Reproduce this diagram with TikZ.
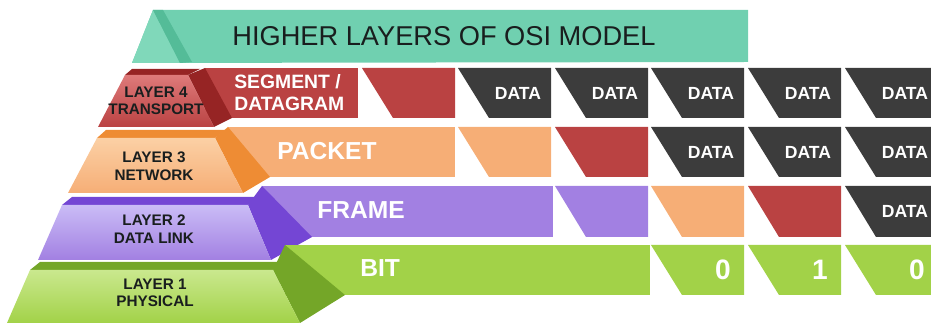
\documentclass[tikz,border=0pt]{standalone}
\usepackage{fontspec}
\setmainfont{Liberation Sans}
\usepackage{tikz}
\definecolor{OSIInk}{RGB}{25,30,30}
\definecolor{OSITeal}{RGB}{112,208,176}
\definecolor{OSITealLight}{RGB}{128,216,186}
\definecolor{OSITealDark}{RGB}{84,188,152}
\definecolor{OSIRed}{RGB}{186,66,66}
\definecolor{OSIRedDark}{RGB}{150,36,36}
\definecolor{OSIRedLight}{RGB}{222,122,122}
\definecolor{OSIOrange}{RGB}{246,174,118}
\definecolor{OSIOrangeDark}{RGB}{238,140,52}
\definecolor{OSIOrangeLight}{RGB}{251,208,165}
\definecolor{OSIPurple}{RGB}{162,128,226}
\definecolor{OSIPurpleDark}{RGB}{116,70,212}
\definecolor{OSIPurpleLight}{RGB}{202,188,246}
\definecolor{OSIGreen}{RGB}{162,210,72}
\definecolor{OSIGreenDark}{RGB}{116,166,40}
\definecolor{OSIGreenLight}{RGB}{202,232,142}
\definecolor{OSIDark}{RGB}{60,60,60}

\begin{document}
\begin{tikzpicture}[x=0.02cm, y=-0.02cm,
          layertxt/.style={font=\fontsize{8.7}{10}\selectfont\bfseries, text=OSIInk,
                           align=center, inner sep=0pt},
          unittxt/.style={font=\fontsize{14}{16}\selectfont\bfseries, text=white,
                          anchor=west, inner sep=0pt},
          datatxt/.style={font=\fontsize{10}{12}\selectfont\bfseries, text=white, inner sep=0pt},
          bittxt/.style={font=\fontsize{16}{18}\selectfont\bfseries, text=white, inner sep=0pt}
        ]
        \useasboundingbox (0,0) rectangle (931,323);

        % Higher layers
        \fill[OSITeal] (132,63) -- (153,10) -- (748,10) -- (748,62) -- cycle;
        \fill[OSITealLight] (132,63) -- (153,10) -- (180,63) -- cycle;
        \fill[OSITealDark] (153,10) -- (163,10) -- (192,62) -- (180,63) -- cycle;
        \node[anchor=west, inner sep=0pt, font=\fontsize{15.5}{18}\selectfont, text=OSIInk]
              (higher) at (232,36) {HIGHER LAYERS OF OSI MODEL};

        % Layer 4
        \fill[OSIRed] (205,68) rectangle (358,118);
        \fill[OSIRedDark] (132,69) -- (200,69) -- (188,75) -- (125,75) -- cycle;
        \fill[OSIRedDark] (188,75) -- (205,68) -- (232,118) -- (214,127) -- cycle;
        \shade[top color=OSIRedLight, bottom color=OSIRed]
              (125,75) -- (188,75) -- (214,127) -- (98,127) -- cycle;
        \node[layertxt] (l4) at (156,101) {LAYER 4\\TRANSPORT};
        \node[font=\fontsize{11}{12.5}\selectfont\bfseries, text=white, anchor=west,
              align=left, inner sep=0pt] (seg) at (234,93) {SEGMENT /\\DATAGRAM};

        % Layer 3
        \fill[OSIOrange] (228,127) rectangle (455,177);
        \fill[OSIOrangeDark] (106,130) -- (226,130) -- (215,138) -- (97,138) -- cycle;
        \fill[OSIOrangeDark] (215,138) -- (228,127) -- (270,177) -- (243,193) -- cycle;
        \shade[top color=OSIOrangeLight, bottom color=OSIOrange]
              (97,138) -- (215,138) -- (243,193) -- (68,193) -- cycle;
        \node[layertxt] (l3) at (154,166) {LAYER 3\\NETWORK};
        \node[unittxt] (packet) at (277,151) {PACKET};

        % Layer 2
        \fill[OSIPurple] (262,186) rectangle (553,237);
        \fill[OSIPurpleDark] (72,197) -- (258,197) -- (248,205) -- (62,205) -- cycle;
        \fill[OSIPurpleDark] (248,205) -- (262,186) -- (312,237) -- (271,260) -- cycle;
        \shade[top color=OSIPurpleLight, bottom color=OSIPurple]
              (62,205) -- (248,205) -- (271,260) -- (38,260) -- cycle;
        \node[layertxt] (l2) at (154,229) {LAYER 2\\DATA LINK};
        \node[unittxt] (frame) at (317,210) {FRAME};

        % Layer 1
        \fill[OSIGreen] (285,245) rectangle (650,295);
        \fill[OSIGreenDark] (40,262) -- (283,262) -- (273,270) -- (30,270) -- cycle;
        \fill[OSIGreenDark] (273,270) -- (285,245) -- (345,295) -- (300,323) -- cycle;
        \shade[top color=OSIGreenLight, bottom color=OSIGreen]
              (30,270) -- (273,270) -- (300,323) -- (7,323) -- cycle;
        \node[layertxt] (l1) at (155,293) {LAYER 1\\PHYSICAL};
        \node[unittxt] (bit) at (360,268) {BIT};

        % Row 4 cells
        \fill[OSIRed]  (362,68) -- ++(93,0) -- ++(0,50) -- ++(-62,0) -- cycle;
        \fill[OSIDark] (458,68) -- ++(93,0) -- ++(0,50) -- ++(-62,0) -- cycle;
        \fill[OSIDark] (555,68) -- ++(93,0) -- ++(0,50) -- ++(-62,0) -- cycle;
        \fill[OSIDark] (651,68) -- ++(93,0) -- ++(0,50) -- ++(-62,0) -- cycle;
        \fill[OSIDark] (748,68) -- ++(93,0) -- ++(0,50) -- ++(-62,0) -- cycle;
        \fill[OSIDark] (845,68) -- ++(93,0) -- ++(0,50) -- ++(-62,0) -- cycle;
        \node[datatxt] (d41) at (518,93) {DATA};
        \node[datatxt] (d42) at (615,93) {DATA};
        \node[datatxt] (d43) at (711,93) {DATA};
        \node[datatxt] (d44) at (808,93) {DATA};
        \node[datatxt] (d45) at (905,93) {DATA};

        % Row 3 cells
        \fill[OSIOrange] (458,127) -- ++(93,0) -- ++(0,50) -- ++(-62,0) -- cycle;
        \fill[OSIRed]    (555,127) -- ++(93,0) -- ++(0,50) -- ++(-62,0) -- cycle;
        \fill[OSIDark]   (651,127) -- ++(93,0) -- ++(0,50) -- ++(-62,0) -- cycle;
        \fill[OSIDark]   (748,127) -- ++(93,0) -- ++(0,50) -- ++(-62,0) -- cycle;
        \fill[OSIDark]   (845,127) -- ++(93,0) -- ++(0,50) -- ++(-62,0) -- cycle;
        \node[datatxt] (d33) at (711,152) {DATA};
        \node[datatxt] (d34) at (808,152) {DATA};
        \node[datatxt] (d35) at (905,152) {DATA};

        % Row 2 cells
        \fill[OSIPurple] (555,186) -- ++(93,0) -- ++(0,51) -- ++(-62,0) -- cycle;
        \fill[OSIOrange] (651,186) -- ++(93,0) -- ++(0,51) -- ++(-62,0) -- cycle;
        \fill[OSIRed]    (748,186) -- ++(93,0) -- ++(0,51) -- ++(-62,0) -- cycle;
        \fill[OSIDark]   (845,186) -- ++(93,0) -- ++(0,51) -- ++(-62,0) -- cycle;
        \node[datatxt] (d25) at (905,211) {DATA};

        % Row 1 cells
        \fill[OSIGreen] (651,245) -- ++(93,0) -- ++(0,50) -- ++(-62,0) -- cycle;
        \fill[OSIGreen] (748,245) -- ++(93,0) -- ++(0,50) -- ++(-62,0) -- cycle;
        \fill[OSIGreen] (845,245) -- ++(93,0) -- ++(0,50) -- ++(-62,0) -- cycle;
        \node[bittxt] (b13) at (723,270) {0};
        \node[bittxt] (b14) at (820,270) {1};
        \node[bittxt] (b15) at (917,270) {0};
      \end{tikzpicture}
\end{document}
